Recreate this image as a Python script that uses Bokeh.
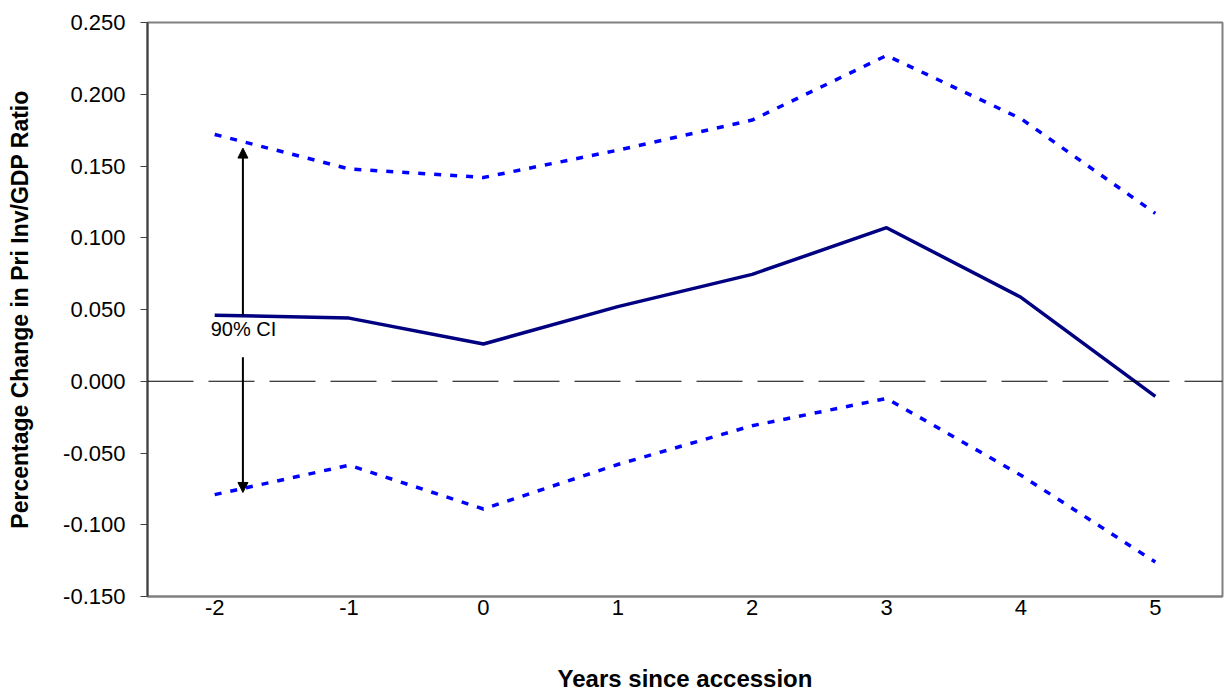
from bokeh.plotting import figure
from bokeh.models import FixedTicker, Span, Arrow, NormalHead, Label, Range1d, CustomJSTickFormatter
from bokeh.embed import file_html
from bokeh.resources import INLINE

years = [-2, -1, 0, 1, 2, 3, 4, 5]
estimate = [0.046, 0.044, 0.026, 0.052, 0.0745, 0.107, 0.0585, -0.0105]
upper_ci = [0.172, 0.148, 0.142, 0.161, 0.182, 0.227, 0.183, 0.117]
lower_ci = [-0.079, -0.0585, -0.089, -0.058, -0.031, -0.012, -0.0655, -0.126]
y_ticks = [-0.15, -0.10, -0.05, 0.0, 0.05, 0.10, 0.15, 0.20, 0.25]

FONT = "Liberation Sans"

p = figure(width=1224, height=695, output_backend="svg", toolbar_location=None,
           x_range=Range1d(-2.5, 5.5), y_range=Range1d(-0.15, 0.25),
           min_border_left=147, min_border_top=22, min_border_right=2, min_border_bottom=99)

p.grid.visible = False
p.outline_line_color = "#808080"
p.outline_line_width = 2
p.background_fill_color = "white"
p.border_fill_color = "white"

# zero line
p.add_layout(Span(location=0, dimension="width", line_color="black", line_width=1, line_dash="46 15"))

p.line(years, upper_ci, line_color="#0000FF", line_width=3.5, line_dash="7 9")
p.line(years, lower_ci, line_color="#0000FF", line_width=3.5, line_dash="7 9")
p.line(years, estimate, line_color="#000080", line_width=3.5)

# 90% CI annotation arrows
p.add_layout(Arrow(x_start=-1.79, y_start=0.046, x_end=-1.79, y_end=0.1625,
                   line_color="black", line_width=2,
                   end=NormalHead(size=10, fill_color="black", line_color="black")))
p.add_layout(Arrow(x_start=-1.79, y_start=0.0167, x_end=-1.79, y_end=-0.0775,
                   line_color="black", line_width=2,
                   end=NormalHead(size=10, fill_color="black", line_color="black")))
p.add_layout(Label(x=-2.03, y=0.0365, text="90% CI", text_font=FONT, text_font_size="20px",
                   text_baseline="middle", text_color="black"))

# axes
p.xaxis.ticker = FixedTicker(ticks=years)
p.xaxis.formatter = CustomJSTickFormatter(code="return tick.toFixed(0);")
p.xaxis.major_tick_line_color = None
p.xaxis.minor_tick_line_color = None
p.xaxis.axis_line_color = "#808080"
p.xaxis.axis_line_width = 2
p.xaxis.major_label_standoff = -3
p.xaxis.major_label_text_font = FONT
p.xaxis.major_label_text_font_size = "22px"
p.xaxis.major_label_text_color = "black"
p.xaxis.axis_label = "Years since accession"
p.xaxis.axis_label_text_font = FONT
p.xaxis.axis_label_text_font_size = "24px"
p.xaxis.axis_label_text_font_style = "bold"
p.xaxis.axis_label_text_color = "black"
p.xaxis.axis_label_standoff = 47

p.yaxis.ticker = FixedTicker(ticks=y_ticks)
p.yaxis.formatter = CustomJSTickFormatter(code="return tick.toFixed(3);")
p.yaxis.minor_tick_line_color = None
p.yaxis.major_tick_out = 7
p.yaxis.major_tick_in = 0
p.yaxis.major_tick_line_color = "#404040"
p.yaxis.major_tick_line_width = 1
p.yaxis.axis_line_color = "#404040"
p.yaxis.axis_line_width = 2
p.yaxis.major_label_standoff = 15
p.yaxis.major_label_text_font = FONT
p.yaxis.major_label_text_font_size = "22px"
p.yaxis.major_label_text_color = "black"
p.yaxis.axis_label = "Percentage Change in Pri Inv/GDP Ratio"
p.yaxis.axis_label_text_font = FONT
p.yaxis.axis_label_text_font_size = "23px"
p.yaxis.axis_label_text_font_style = "bold"
p.yaxis.axis_label_text_color = "black"
p.yaxis.axis_label_standoff = 27

open("out.html", "w").write(file_html(p, INLINE))
